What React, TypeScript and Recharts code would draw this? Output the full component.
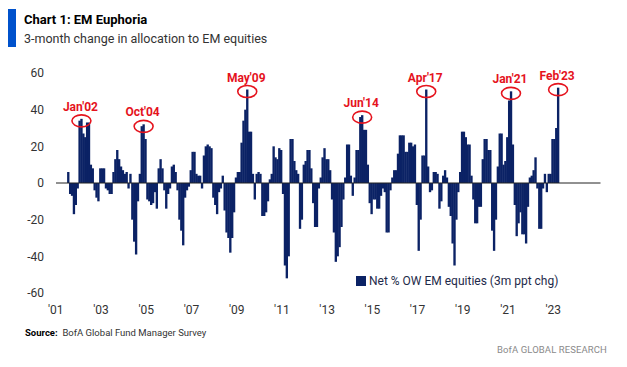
import React from 'react';
import { BarChart, Bar, XAxis, YAxis, ReferenceLine, ReferenceDot, Legend } from 'recharts';

// Monthly readings, Jun 2001 .. Feb 2023 (3m change, ppt)
const v2001 = [6, -6, -7, -17, -12, -3, 34];
const v2002 = [35, 27, 25, 33, 33, 10, 8, -4, -8, -10, 8, 8];
const v2003 = [8, -3, -4, -6, -6, 6, 13, 18, 13, 9, 7, 5];
const v2004 = [6, -3, 5, -20, -32, -39, -10, 5, 31, 32, 24, -9];
const v2005 = [-10, -12, -11, -5, -14, 8, 13, 8, -4, -14, -6, -3];
const v2006 = [9, 10, 6, -4, -20, -26, -34, -8, -4, -2, 7, 17];
const v2007 = [17, 5, 4, 4, -3, 15, 20, 21, 20, 19, -8, -12];
const v2008 = [-17, -5, -3, 4, -15, -27, -30, -38, -30, -16, 3, 6];
const v2009 = [6, 22, 34, 40, 51, 28, 28, 5, -9, 5, 6, 5];
const v2010 = [-18, -18, -16, -10, 2, 5, 20, 14, 13, 19, 18, -6];
const v2011 = [-45, -52, -40, 24, 24, 12, 7, 5, -25, -20, 10, 12];
const v2012 = [18, 18, 8, -11, -24, -24, -3, 3, 14, 19, 13, 13];
const v2013 = [7, -9, -27, -43, -40, -35, -24, -9, 3, 21, 21, 4];
const v2014 = [-7, 3, 18, 18, 36, 37, 29, 29, 10, -11, -17, -9];
const v2015 = [-9, -14, -14, -7, -3, -5, -27, -27, -4, 3, 7, 7];
const v2016 = [16, 26, 26, 26, 17, 17, 22, 22, 20, 21, -12, -37];
const v2017 = [-20, 15, 15, 51, 9, -5, -4, 6, 6, 5, -14, -10];
const v2018 = [4, 7, 3, -13, -18, -33, -45, -20, -5, 6, 28, 28];
const v2019 = [25, 21, 21, 4, -9, -22, -22, -13, -13, 13, 24, 24];
const v2020 = [18, 18, -26, -37, -20, 9, 27, 27, 10, 12, 25, 45];
const v2021 = [50, 21, -12, -29, -22, -16, -28, -28, -33, -13, 3, 4];
const v2022 = [7, 14, -3, -25, -25, -3, 5, -5, 5, 5, 24, 24];
const v2023 = [30, 52];

const series = [
  ...v2001, ...v2002, ...v2003, ...v2004, ...v2005, ...v2006, ...v2007, ...v2008,
  ...v2009, ...v2010, ...v2011, ...v2012, ...v2013, ...v2014, ...v2015, ...v2016,
  ...v2017, ...v2018, ...v2019, ...v2020, ...v2021, ...v2022, ...v2023,
];
const FIRST_YEAR = 2001;
const FIRST_MONTH = 6;

// axis runs Dec'00 .. Dec'24
const AXIS_MONTHS = 289;

const tickDates = ['2001-01', '2003-01', '2005-01', '2007-01', '2009-01', '2011-01',
  '2013-01', '2015-01', '2017-01', '2019-01', '2021-01', '2023-01'];
const tickLabels = ["'01", "'03", "'05", "'07", "'09", "'11", "'13", "'15", "'17", "'19", "'21", "'23"];
const yTicks = [-60, -40, -20, 0, 20, 40, 60];

const peakDates = ['2002-01', '2004-10', '2009-05', '2014-06', '2017-04', '2021-01', '2023-02'];
const peakLabels = ["Jan'02", "Oct'04", "May'09", "Jun'14", "Apr'17", "Jan'21", "Feb'23"];

const NAVY = '#0b2265';
const RED = '#e5131d';
const FONT = 'Roboto, "Noto Sans", sans-serif';

const data: { date: string; value: number | null }[] = [];
for (let i = 0; i < AXIS_MONTHS; i++) {
  const year = 2000 + Math.floor((11 + i) / 12);
  const month = ((11 + i) % 12) + 1;
  const idx = (year - FIRST_YEAR) * 12 + (month - FIRST_MONTH);
  data.push({
    date: `${year}-${String(month).padStart(2, '0')}`,
    value: idx >= 0 && idx < series.length ? series[idx] : null,
  });
}

const valueAt = (date: string) => data.find((d) => d.date === date)?.value ?? 0;

// bars sit edge to edge in the original, so widen each one a touch
const SolidBar = (props: any) => {
  const { x, y, width, height } = props;
  if (x == null || !height) return null;
  const top = Math.min(y, y + height);
  return <rect x={x - 0.2} y={top} width={width + 0.5} height={Math.abs(height)} fill={NAVY} />;
};

const PeakMark = ({ cx, cy, label }: { cx?: number; cy?: number; label: string }) => {
  if (cx == null || cy == null) return null;
  const ey = cy + 2;
  return (
    <g>
      <ellipse cx={cx} cy={ey} rx={9.5} ry={6} fill="none" stroke={RED} strokeWidth={1.6} />
      <text x={cx - 1} y={ey - 10} textAnchor="middle" fill={RED} fontSize={12} fontWeight={700} fontFamily={FONT}>
        {label}
      </text>
    </g>
  );
};

const renderLegend = () => (
  <div style={{ display: 'flex', alignItems: 'center', fontFamily: FONT, fontSize: 12, color: '#1e2a4a' }}>
    <span style={{ width: 10, height: 10, background: NAVY, display: 'inline-block', marginRight: 3 }} />
    <span>Net % OW EM equities (3m ppt chg)</span>
  </div>
);

export default function App() {
  return (
    <div style={{ position: 'absolute', left: 0, top: 0, width: 627, height: 367, background: '#fff', fontFamily: FONT }}>
      <div style={{ position: 'absolute', left: 8, top: 9, width: 8, height: 38, background: '#0052cc' }} />
      <div style={{ position: 'absolute', left: 24, top: 12, fontSize: 13, fontWeight: 700, color: '#000', lineHeight: '16px' }}>
        Chart 1: EM Euphoria
      </div>
      <div style={{ position: 'absolute', left: 24, top: 31, fontSize: 12.5, color: '#333', lineHeight: '16px' }}>
        3-month change in allocation to EM equities
      </div>

      <div style={{ position: 'absolute', left: 0, top: 0 }}>
        <BarChart width={627} height={367} data={data} margin={{ top: 73, right: 26.5, left: 0, bottom: 44 }}>
          <XAxis
            dataKey="date"
            ticks={tickDates}
            interval={0}
            tickFormatter={(d: string) => tickLabels[tickDates.indexOf(d)] ?? ''}
            axisLine={false}
            tickLine={false}
            tickSize={0}
            tickMargin={12}
            height={30}
            tick={{ fontSize: 12, fill: '#333', fontFamily: FONT, dx: -3 }}
          />
          <YAxis
            domain={[-60, 60]}
            ticks={yTicks}
            interval={0}
            axisLine={false}
            tickLine={false}
            tickSize={0}
            tickMargin={12}
            width={56}
            tick={{ fontSize: 12, fill: '#333', fontFamily: FONT }}
          />
          <Bar
            dataKey="value"
            name="Net % OW EM equities (3m ppt chg)"
            fill={NAVY}
            barSize={1.85}
            shape={SolidBar}
            isAnimationActive={false}
          />
          <ReferenceLine y={0} stroke="#222" strokeWidth={1} />
          {peakDates.map((d, i) => (
            <ReferenceDot
              key={d}
              x={d}
              y={valueAt(d)}
              r={0}
              ifOverflow="visible"
              shape={(p: any) => <PeakMark cx={p.cx} cy={p.cy} label={peakLabels[i]} />}
            />
          ))}
          <Legend
            verticalAlign="middle"
            align="center"
            content={renderLegend}
            wrapperStyle={{ left: 356, top: 274, width: 'auto', height: 'auto' }}
          />
        </BarChart>
      </div>

      <div style={{ position: 'absolute', left: 25, top: 327, fontSize: 9.5, color: '#333', lineHeight: '12px' }}>
        <span style={{ fontWeight: 700, color: '#000' }}>Source:</span>&nbsp; BofA Global Fund Manager Survey
      </div>
      <div style={{ position: 'absolute', left: 497, top: 344, fontSize: 9.5, color: '#8a8a8a', lineHeight: '12px', letterSpacing: 0.1 }}>
        BofA GLOBAL RESEARCH
      </div>
    </div>
  );
}
